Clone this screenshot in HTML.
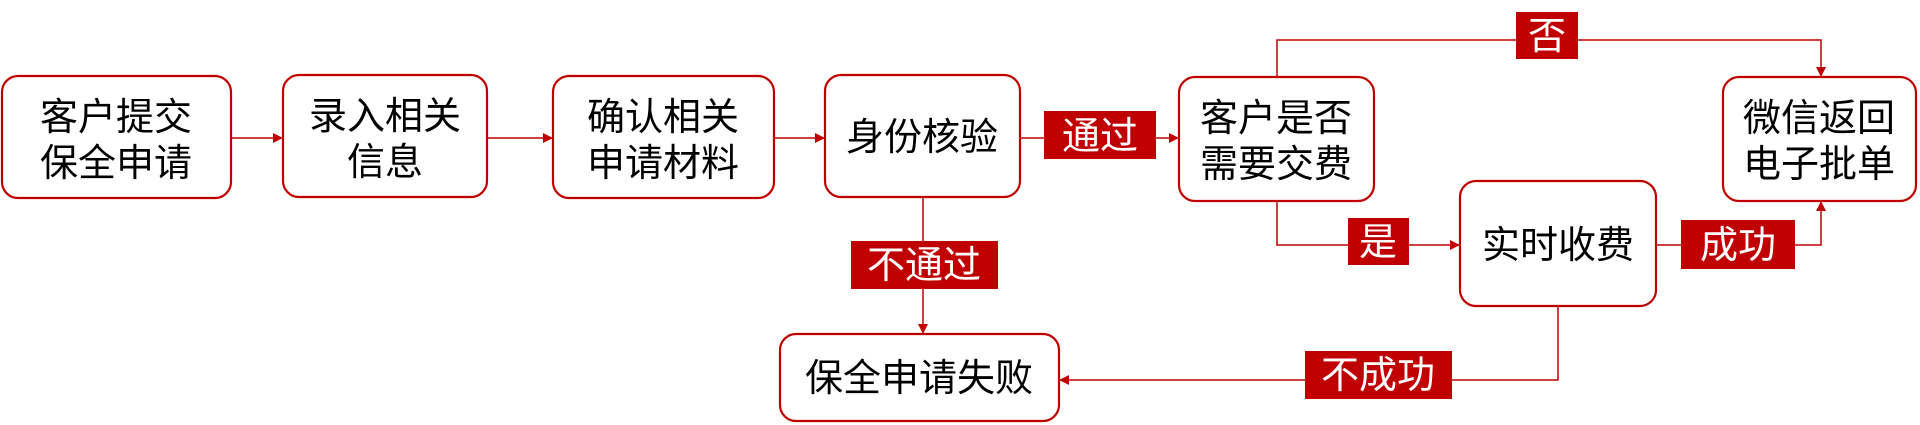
<!DOCTYPE html>
<html><head><meta charset="utf-8"><style>
html,body{margin:0;padding:0;background:#fff;width:1920px;height:425px;overflow:hidden}
text{font-family:"Liberation Sans","Noto Sans CJK SC",sans-serif;font-size:38px}
</style></head><body>
<svg width="1920" height="425" viewBox="0 0 1920 425" xmlns="http://www.w3.org/2000/svg">
<defs><marker id="a" markerWidth="10" markerHeight="10" refX="9" refY="5" orient="auto" markerUnits="userSpaceOnUse"><path d="M0,0 L10,5 L0,10 z" fill="#c00000"/></marker></defs>
<g fill="#fff" stroke="#c00000" stroke-width="2.2">
<rect x="2" y="76" width="229" height="122" rx="16"/>
<rect x="283" y="75" width="204" height="122" rx="16"/>
<rect x="553" y="76" width="221" height="122" rx="16"/>
<rect x="825" y="75" width="195" height="122" rx="16"/>
<rect x="1179" y="77" width="195" height="124" rx="16"/>
<rect x="1723" y="77" width="193" height="124" rx="16"/>
<rect x="1460" y="181" width="196" height="125" rx="16"/>
<rect x="780" y="334" width="279" height="87" rx="16"/>
</g>
<g fill="none" stroke="#c00000" stroke-width="1.5" marker-end="url(#a)">
<line x1="231" y1="138" x2="282" y2="138"/>
<line x1="487" y1="138" x2="552" y2="138"/>
<line x1="774" y1="138" x2="824" y2="138"/>
<line x1="1020" y1="138" x2="1178" y2="138"/>
<polyline points="1277,77 1277,40 1821,40 1821,76"/>
<polyline points="1277,201 1277,245 1459,245"/>
<polyline points="1656,245 1821,245 1821,202"/>
<polyline points="923,197 923,333"/>
<polyline points="1558,306 1558,380 1060,380"/>
</g>
<g fill="#c00000">
<rect x="1044" y="111" width="112" height="48"/>
<rect x="1516" y="12" width="62" height="47"/>
<rect x="1348" y="218" width="61" height="47"/>
<rect x="1681" y="220" width="114" height="49"/>
<rect x="851" y="241" width="147" height="48"/>
<rect x="1305" y="351" width="147" height="48"/>
</g>
<g fill="#fff" text-anchor="middle">
<text x="1100" y="149">通过</text>
<text x="1547" y="49">否</text>
<text x="1378" y="255">是</text>
<text x="1738" y="258">成功</text>
<text x="924" y="278">不通过</text>
<text x="1378" y="388">不成功</text>
</g>
<g fill="#000" text-anchor="middle">
<text x="116" y="130">客户提交</text><text x="116" y="176">保全申请</text>
<text x="385" y="129">录入相关</text><text x="385" y="175">信息</text>
<text x="663" y="130">确认相关</text><text x="663" y="176">申请材料</text>
<text x="922" y="150">身份核验</text>
<text x="1276" y="131">客户是否</text><text x="1276" y="177">需要交费</text>
<text x="1819" y="131">微信返回</text><text x="1819" y="177">电子批单</text>
<text x="1558" y="258">实时收费</text>
<text x="919" y="391">保全申请失败</text>
</g>
</svg>
</body></html>
